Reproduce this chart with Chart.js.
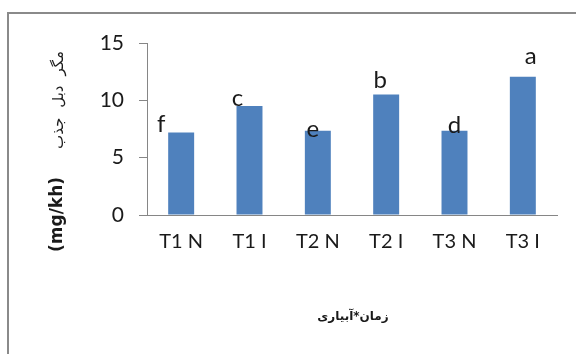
<!DOCTYPE html>
<html>
<head>
<meta charset="utf-8">
<script src="https://cdn.jsdelivr.net/npm/chart.js@4/dist/chart.umd.min.js"></script>
<style>
  html, body { margin: 0; padding: 0; background: #fff; }
  #wrap { width: 576px; height: 354px; position: relative; }
</style>
</head>
<body>
<div id="wrap"><canvas id="c" width="576" height="354"></canvas></div>
<script>
// Treatments (time x irrigation) and mean values
const categories = ['T1 N', 'T1 I', 'T2 N', 'T2 I', 'T3 N', 'T3 I'];
const values = [7.2, 9.5, 7.35, 10.5, 7.35, 12.05];
// Significance groups shown above the bars
const groupLetters = ['f', 'c', 'e', 'b', 'd', 'a'];
const yTicks = [0, 5, 10, 15];
const yTitleUnit = '(mg/kh)';
const yTitleWords = ['مگر', 'دبل', 'جذب'];
const xTitleText = 'زمان*آبیاری';

// Per-letter nudges relative to the bar top (px)
const letterOffsets = [[-20, 0], [-12, 0], [-5, 6], [-6, -7], [0, 2], [8, -13]];

const textColor = '#1a1a1a';
const axisColor = '#868686';

const frame = {
  id: 'frame',
  beforeDraw(chart) {
    const ctx = chart.ctx;
    ctx.save();
    ctx.fillStyle = '#fff';
    ctx.fillRect(0, 0, chart.width, chart.height);
    ctx.strokeStyle = '#8a8a8a';
    ctx.lineWidth = 2;
    ctx.strokeRect(8, 13, 600, 400);
    ctx.restore();
  }
};

const annotations = {
  id: 'annotations',
  afterDatasetsDraw(chart) {
    const ctx = chart.ctx;
    const meta = chart.getDatasetMeta(0);
    ctx.save();
    ctx.fillStyle = textColor;
    ctx.font = '24px Lato';
    ctx.textAlign = 'center';
    ctx.textBaseline = 'alphabetic';
    meta.data.forEach((bar, i) => {
      const [dx, dy] = letterOffsets[i];
      ctx.fillText(groupLetters[i], bar.x + dx, bar.y + dy);
    });

    // vertical axis title: bold unit, then the Persian caption (words spaced out)
    ctx.translate(58, 252);
    ctx.rotate(-Math.PI / 2);
    ctx.textAlign = 'left';
    ctx.textBaseline = 'middle';
    ctx.font = 'bold 17px "DejaVu Sans"';
    ctx.fillText(yTitleUnit, 0, 0);
    let pos = ctx.measureText(yTitleUnit).width + 28;
    ctx.font = '15px "DejaVu Sans"';
    // words laid out right-to-left: last word sits nearest the unit
    for (let i = yTitleWords.length - 1; i >= 0; i--) {
      ctx.fillText(yTitleWords[i], pos, 1);
      pos += ctx.measureText(yTitleWords[i]).width + 10;
    }
    ctx.restore();

    // horizontal axis title
    ctx.save();
    ctx.fillStyle = textColor;
    ctx.font = 'bold 12px "DejaVu Sans"';
    ctx.textAlign = 'center';
    ctx.textBaseline = 'middle';
    ctx.fillText(xTitleText, 353, 317);
    ctx.restore();
  }
};

new Chart(document.getElementById('c'), {
  type: 'bar',
  data: {
    labels: categories,
    datasets: [{
      data: values,
      backgroundColor: '#4f81bd',
      borderWidth: 0,
      categoryPercentage: 1,
      barPercentage: 0.38
    }]
  },
  options: {
    responsive: false,
    animation: false,
    devicePixelRatio: 1,
    layout: { padding: { left: 0, top: 43, right: 19, bottom: 0 } },
    plugins: { legend: { display: false }, tooltip: { enabled: false } },
    scales: {
      x: {
        offset: true,
        grid: { display: true, drawOnChartArea: false, drawTicks: false },
        border: { color: axisColor, width: 1 },
        ticks: { color: textColor, font: { family: 'Lato', size: 20 }, padding: 15, maxRotation: 0 },
        afterFit(scale) { scale.height = 354 - 215; }
      },
      y: {
        min: 0,
        max: 15,
        afterBuildTicks(scale) { scale.ticks = yTicks.map(v => ({ value: v })); },
        grid: { drawOnChartArea: false, drawTicks: true, tickLength: 8, color: axisColor },
        border: { color: axisColor, width: 1 },
        ticks: { color: textColor, font: { family: 'Lato', size: 21 }, padding: 15 },
        afterFit(scale) { scale.width = 147; }
      }
    }
  },
  plugins: [frame, annotations]
});
</script>
</body>
</html>
